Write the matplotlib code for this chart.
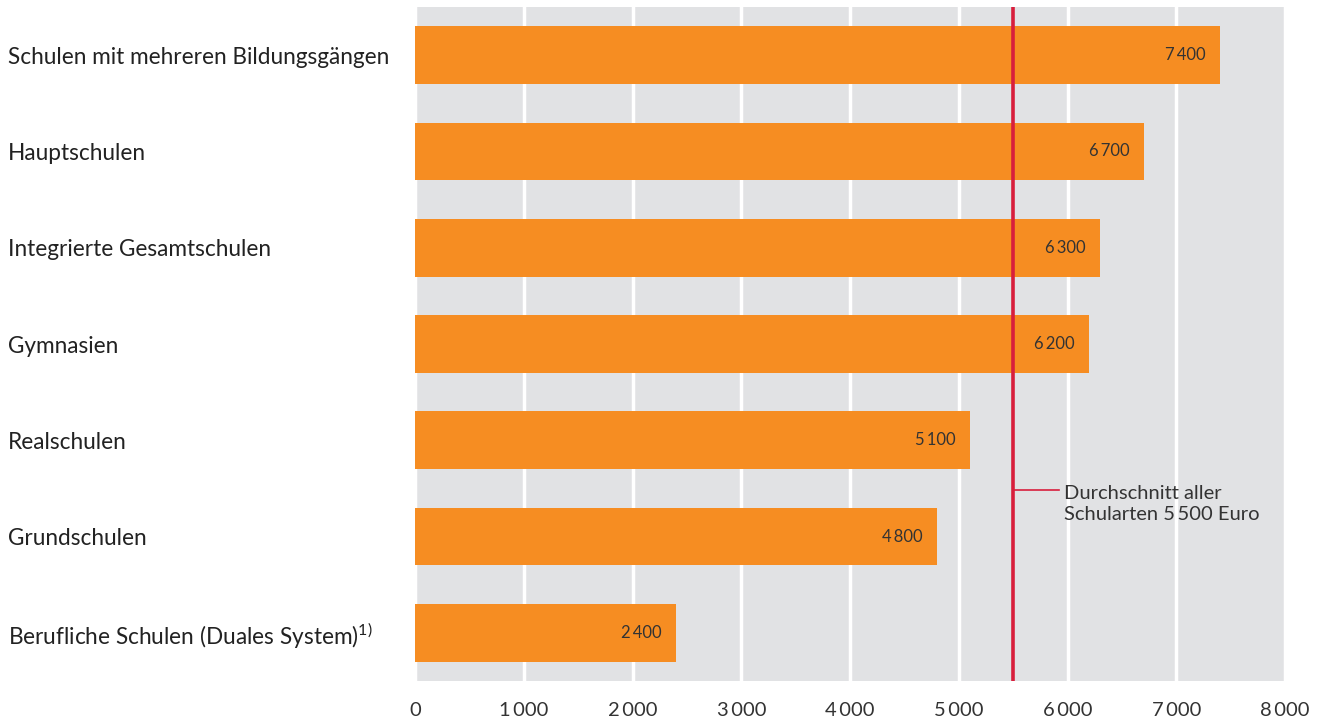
import matplotlib
matplotlib.use('Agg')
import matplotlib.pyplot as plt

plt.rcParams['font.family'] = ['Lato', 'DejaVu Sans']
plt.rcParams['mathtext.fontset'] = 'custom'
plt.rcParams['mathtext.rm'] = 'Lato'

schools = ['Schulen mit mehreren Bildungsgängen', 'Hauptschulen', 'Integrierte Gesamtschulen',
           'Gymnasien', 'Realschulen', 'Grundschulen',
           'Berufliche Schulen (Duales System)$^{\\mathrm{1)}}$']
costs = [7400, 6700, 6300, 6200, 5100, 4800, 2400]
average = 5500
x_ticks = [0, 1000, 2000, 3000, 4000, 5000, 6000, 7000, 8000]


def fmt(v):
    s = f'{v:,}'.replace(',', '\u2009')
    return s


fig = plt.figure(figsize=(13.27, 7.2), dpi=100)
ax = fig.add_axes([415 / 1327, 1 - 681 / 720, 870 / 1327, 674 / 720])
ax.set_facecolor('#e1e2e4')

ypos = list(range(len(schools)))
ax.barh(ypos, costs, height=0.6, color='#f68d22', zorder=3)
for y, v in zip(ypos, costs):
    ax.text(v - 130, y, fmt(v), ha='right', va='center', fontsize=12, color='#333333', zorder=4)

# average line with label
ax.axvline(average, color='#d81e3c', lw=2.6, zorder=5)
ax.plot([average, average + 420], [4.52, 4.52], color='#d81e3c', lw=1.2, zorder=5)
ax.text(average + 470, 4.66, 'Durchschnitt aller\nSchularten 5\u2009500 Euro', ha='left', va='center',
        fontsize=14.5, color='#333333', linespacing=1.3, zorder=5)

ax.set_xlim(0, 8000)
ax.set_ylim(6.5, -0.5)
ax.set_xticks(x_ticks)
ax.set_xticklabels([fmt(t) for t in x_ticks], fontsize=14.5, color='#333333')
ax.set_yticks(ypos)
ax.set_yticklabels(schools, fontsize=16.3, color='#222222', ha='left')
ax.tick_params(axis='y', length=0, pad=293)
ax.tick_params(axis='x', length=0, pad=15)
ax.grid(axis='x', color='white', lw=2.5, zorder=1)
ax.set_axisbelow(True)
for s in ax.spines.values():
    s.set_visible(False)

fig.savefig('out.png', dpi=100)
